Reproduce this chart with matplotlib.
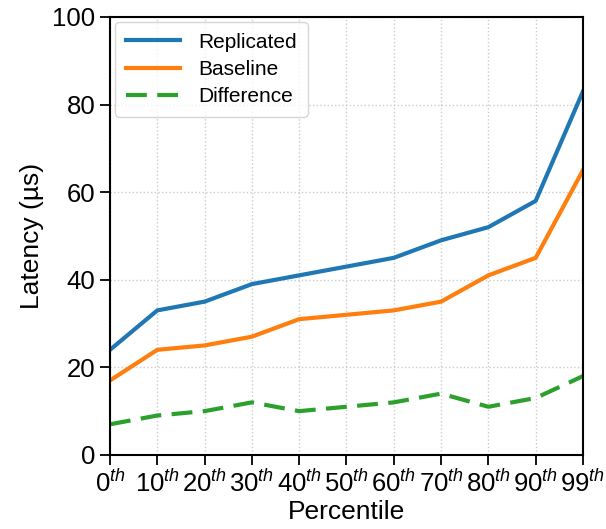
import matplotlib
matplotlib.use("Agg")
import matplotlib.pyplot as plt

plt.rcParams['font.family'] = ['Liberation Sans', 'DejaVu Sans']
plt.rcParams['mathtext.fontset'] = 'custom'
plt.rcParams['mathtext.rm'] = 'Liberation Sans'
plt.rcParams['mathtext.it'] = 'Liberation Sans:italic'

percentiles = ["0", "10", "20", "30", "40", "50", "60", "70", "80", "90", "99"]
replicated = [24, 33, 35, 39, 41, 43, 45, 49, 52, 58, 83]
baseline = [17, 24, 25, 27, 31, 32, 33, 35, 41, 45, 65]
difference = [7, 9, 10, 12, 10, 11, 12, 14, 11, 13, 18]

x = list(range(len(percentiles)))
labels = [r"$%s^{th}$" % p for p in percentiles]

fig = plt.figure(figsize=(6.06, 5.29), dpi=100)
ax = fig.add_axes([0.1815, 0.14, 0.7805, 0.828])

ax.plot(x, replicated, color="#1f77b4", lw=3, label="Replicated")
ax.plot(x, baseline, color="#ff7f0e", lw=3, label="Baseline")
ax.plot(x, difference, color="#2ca02c", lw=3, ls=(0, (5, 2.5)), label="Difference")

ax.set_xlim(0, 10)
ax.set_ylim(0, 100)
ax.set_xticks(x)
ax.set_xticklabels(labels)
ax.set_yticks([0, 20, 40, 60, 80, 100])
ax.tick_params(labelsize=18.5, direction="out", length=7, width=1.3)
ax.tick_params(axis="x", pad=4)
ax.grid(True, ls=":", color="#cccccc", lw=1)
for s in ax.spines.values():
    s.set_linewidth(1.5)

ax.set_xlabel("Percentile", fontsize=19, labelpad=2)
ax.set_ylabel("Latency (µs)", fontsize=19, labelpad=6)
ax.legend(loc="upper left", fontsize=15, handlelength=2.6, handletextpad=0.9,
          borderpad=0.5, labelspacing=0.4, edgecolor="#cccccc", borderaxespad=0.25)

fig.savefig("out.png", dpi=100)
